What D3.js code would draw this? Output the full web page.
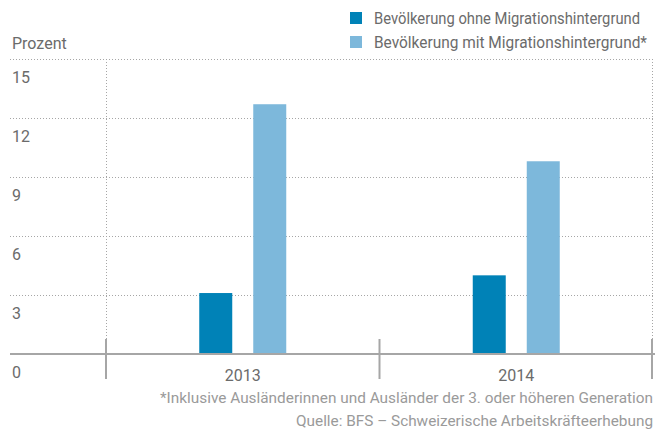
<!DOCTYPE html>
<html><head><meta charset="utf-8">
<script src="https://cdn.jsdelivr.net/npm/d3@7"></script>
<style>body{margin:0;background:#fff}svg{display:block}text{font-family:Roboto,"Noto Sans",sans-serif}</style>
</head><body>
<svg id="c" width="668" height="430"></svg>
<script>
const years = ["2013", "2014"];
const seriesNames = ["Bevölkerung ohne Migrationshintergrund", "Bevölkerung mit Migrationshintergrund*"];
const ohne = [3.1, 4.0];
const mit = [12.7, 9.8];
const yTicks = [0, 3, 6, 9, 12, 15];
const colors = ["#0082b7", "#7db8db"];
const footnote = "*Inklusive Ausländerinnen und Ausländer der 3. oder höheren Generation";
const source = "Quelle: BFS – Schweizerische Arbeitskräfteerhebung";

(function () {
const svg = d3.select("#c");
const mLeft = 10, mRight = 653, mTop = 59, mBottom = 354;
const gridColor = "#a6a6a6", textColor = "#6b6b6b";

const y = d3.scaleLinear().domain([0, 15]).range([mBottom, mTop]);
const xb = d3.scaleBand().domain(years).range([106, mRight]);
const bw = xb.bandwidth();
const inner = d3.scaleBand().domain([0, 1]).range([bw / 2 - 43.5, bw / 2 + 43.5]).paddingInner(0.389).paddingOuter(0);

// horizontal dotted grid
svg.append("g").selectAll("line").data(yTicks.filter(d => d > 0)).join("line")
  .attr("x1", mLeft).attr("x2", mRight + 1).attr("y1", d => Math.round(y(d)) + 0.5).attr("y2", d => Math.round(y(d)) + 0.5)
  .attr("stroke", gridColor).attr("stroke-width", 1).attr("stroke-dasharray", "1,2");

// vertical dotted dividers (outer edges)
svg.append("g").selectAll("line").data([106, mRight - 1]).join("line")
  .attr("x1", d => d + 0.5).attr("x2", d => d + 0.5).attr("y1", mTop).attr("y2", 340)
  .attr("stroke", gridColor).attr("stroke-width", 1).attr("stroke-dasharray", "1,2");

// y labels
svg.append("g").selectAll("text").data(yTicks).join("text")
  .attr("x", 12).attr("y", d => y(d) + 24)
  .attr("fill", textColor).attr("font-size", 16).text(d => d);

// bars
const groups = svg.append("g").selectAll("g").data(years).join("g")
  .attr("transform", d => `translate(${xb(d)},0)`);
groups.selectAll("rect").data((d, i) => [ohne[i], mit[i]]).join("rect")
  .attr("x", (d, j) => inner(j)).attr("width", inner.bandwidth())
  .attr("y", d => y(d)).attr("height", d => mBottom - y(d))
  .attr("fill", (d, j) => colors[j]);

// baseline
svg.append("line").attr("x1", mLeft).attr("x2", mRight + 2).attr("y1", mBottom).attr("y2", mBottom)
  .attr("stroke", gridColor).attr("stroke-width", 2);
// solid dividers
svg.append("g").selectAll("line").data([106, 106 + bw, mRight - 1]).join("line")
  .attr("x1", d => d).attr("x2", d => d).attr("y1", 339).attr("y2", 379)
  .attr("stroke", gridColor).attr("stroke-width", 2);

// x labels
svg.append("g").selectAll("text").data(years).join("text")
  .attr("x", d => xb(d) + bw / 2).attr("y", 381).attr("text-anchor", "middle")
  .attr("fill", textColor).attr("font-size", 16).text(d => d);

// Prozent
svg.append("text").attr("x", 12).attr("y", 49).attr("fill", textColor).attr("font-size", 16).text("Prozent");

// legend
const lg = svg.append("g").selectAll("g").data(seriesNames).join("g")
  .attr("transform", (d, i) => `translate(350,${12 + i * 24})`);
lg.append("rect").attr("width", 12).attr("height", 12).attr("fill", (d, i) => colors[i]);
lg.append("text").attr("x", 24).attr("y", 12).attr("fill", textColor).attr("font-size", 16)
  .attr("textLength", (d, i) => i === 0 ? 266 : 273).attr("lengthAdjust", "spacingAndGlyphs").text(d => d);

// footnotes
svg.append("text").attr("x", 160).attr("y", 403).attr("fill", "#9a9a9a").attr("font-size", 15)
  .attr("textLength", 493).attr("lengthAdjust", "spacingAndGlyphs").text(footnote);
svg.append("text").attr("x", 296).attr("y", 426).attr("fill", "#9a9a9a").attr("font-size", 15)
  .attr("textLength", 357).attr("lengthAdjust", "spacingAndGlyphs").text(source);
})();
</script>
</body></html>
